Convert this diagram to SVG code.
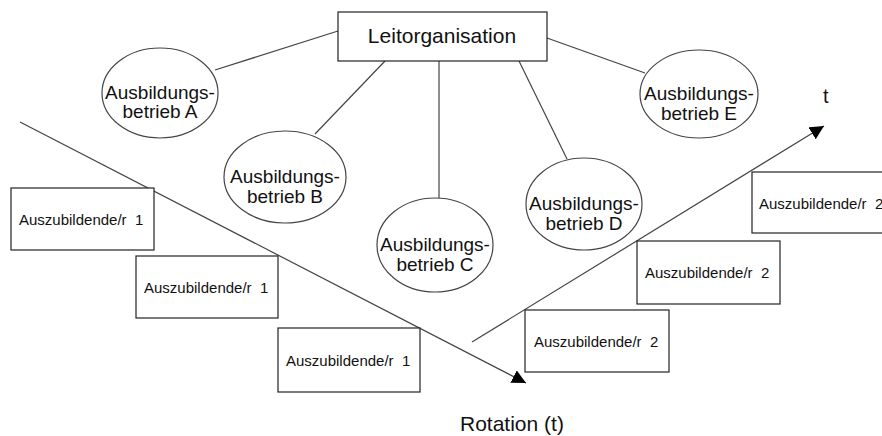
<svg xmlns="http://www.w3.org/2000/svg" width="882" height="436" viewBox="0 0 882 436">
<defs>
<marker id="ah" viewBox="0 0 10 10" refX="10" refY="5" markerWidth="14" markerHeight="14" markerUnits="userSpaceOnUse" orient="auto">
<path d="M0,0 L10,5 L0,10 z" fill="#000"/>
</marker>
<style>
.box{fill:#fff;stroke:#222;stroke-width:1.2}
.ell{fill:#fff;stroke:#444;stroke-width:1.2}
.ln{stroke:#444;stroke-width:1.2;fill:none}
.arr{stroke:#444;stroke-width:1.2;fill:none;marker-end:url(#ah)}
.t{font-family:"Liberation Sans",Arial,sans-serif;fill:#111}
.et{font-size:19px;text-anchor:middle}
.bt{font-size:15px;white-space:pre}
</style>
</defs>
<rect width="882" height="436" fill="#fff"/>
<g id="connectors">
<line class="ln" x1="338" y1="31" x2="215" y2="70"/>
<line class="ln" x1="385" y1="61" x2="315" y2="134"/>
<line class="ln" x1="439" y1="61" x2="439" y2="198"/>
<line class="ln" x1="519" y1="61" x2="567" y2="159"/>
<line class="ln" x1="547" y1="38" x2="645" y2="73"/>
<line class="arr" x1="20" y1="122" x2="526" y2="383"/>
<line class="arr" x1="472" y1="342" x2="824" y2="126"/>
</g>
<g id="leitorganisation">
<rect class="box" x="338" y="12" width="209" height="49"/>
<text class="t" x="442" y="43" font-size="21" text-anchor="middle">Leitorganisation</text>
</g>
<g id="betrieb-a">
<ellipse class="ell" cx="160" cy="93" rx="58" ry="45"/>
<text class="t et" x="160" y="99">Ausbildungs-</text>
<text class="t et" x="160" y="118">betrieb A</text>
</g>
<g id="betrieb-b">
<ellipse class="ell" cx="285" cy="177" rx="61" ry="46"/>
<text class="t et" x="285" y="183">Ausbildungs-</text>
<text class="t et" x="285" y="203">betrieb B</text>
</g>
<g id="betrieb-c">
<ellipse class="ell" cx="435" cy="245" rx="58" ry="47"/>
<text class="t et" x="435" y="251">Ausbildungs-</text>
<text class="t et" x="435" y="271">betrieb C</text>
</g>
<g id="betrieb-d">
<ellipse class="ell" cx="584" cy="204" rx="58" ry="46"/>
<text class="t et" x="584" y="210">Ausbildungs-</text>
<text class="t et" x="584" y="230">betrieb D</text>
</g>
<g id="betrieb-e">
<ellipse class="ell" cx="699" cy="94" rx="59" ry="44"/>
<text class="t et" x="699" y="100">Ausbildungs-</text>
<text class="t et" x="699" y="120">betrieb E</text>
</g>
<g id="azubi-1a">
<rect class="box" x="11" y="188" width="143" height="62"/>
<text class="t bt" x="19" y="225">Auszubildende/r  1</text>
</g>
<g id="azubi-1b">
<rect class="box" x="136" y="256" width="142" height="62"/>
<text class="t bt" x="144" y="293">Auszubildende/r  1</text>
</g>
<g id="azubi-1c">
<rect class="box" x="278" y="328" width="142" height="64"/>
<text class="t bt" x="286" y="366">Auszubildende/r  1</text>
</g>
<g id="azubi-2a">
<rect class="box" x="525" y="310" width="144" height="62"/>
<text class="t bt" x="534" y="347">Auszubildende/r  2</text>
</g>
<g id="azubi-2b">
<rect class="box" x="637" y="241" width="143" height="63"/>
<text class="t bt" x="645" y="278">Auszubildende/r  2</text>
</g>
<g id="azubi-2c">
<rect class="box" x="752" y="172" width="145" height="61"/>
<text class="t bt" x="759" y="209">Auszubildende/r  2</text>
</g>
<g id="labels">
<text class="t" x="823" y="103" font-size="20">t</text>
<text class="t" x="460" y="431" font-size="21">Rotation (t)</text>
</g>
</svg>
